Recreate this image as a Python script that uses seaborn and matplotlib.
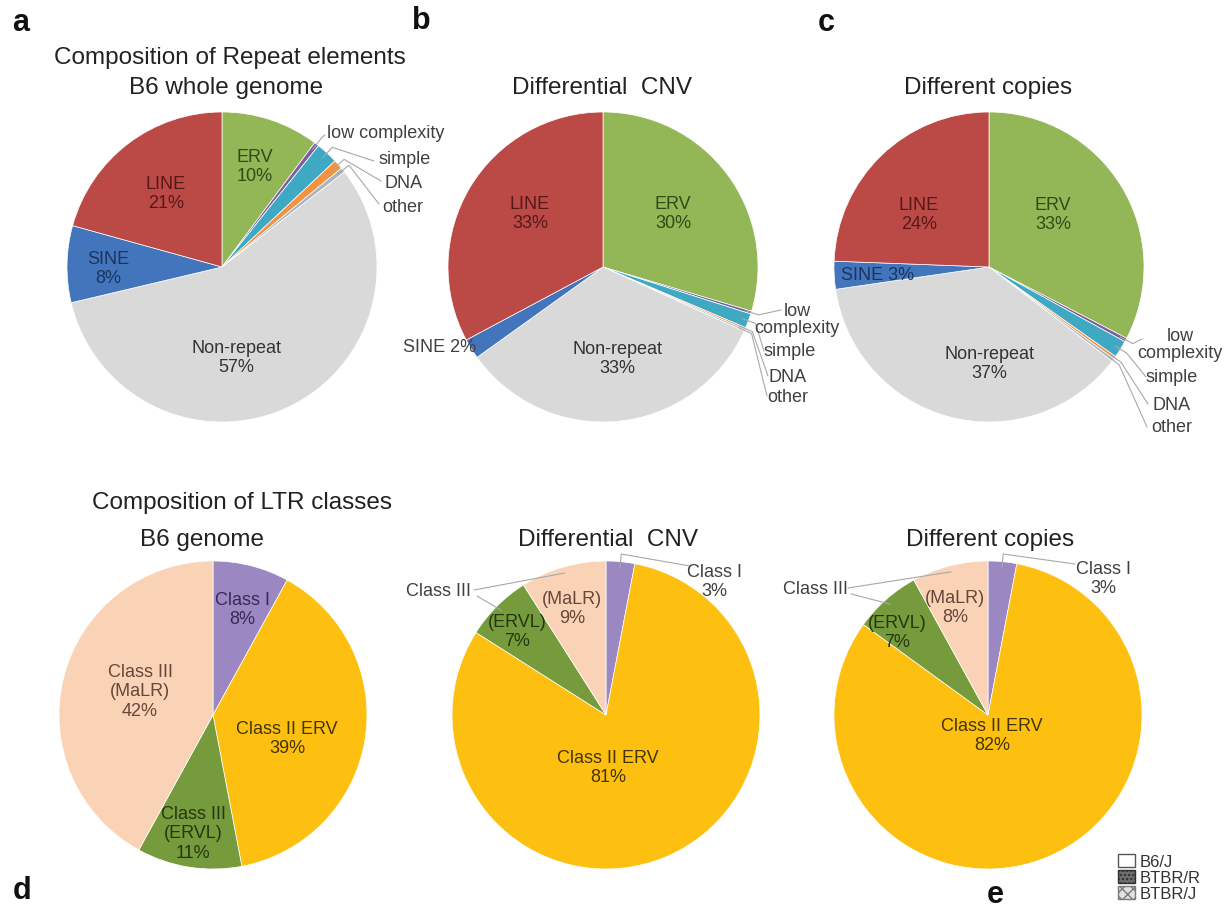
import numpy as np
import matplotlib
matplotlib.use("Agg")
import matplotlib.pyplot as plt
from matplotlib.patches import Patch
import seaborn as sns

# ---------------- data (percent of sequence) ----------------
repeat_types = ["ERV", "low complexity", "simple", "DNA", "other", "Non-repeat", "SINE", "LINE"]
b6_whole_genome = [10.2, 0.5, 2.3, 1.0, 0.5, 56.8, 8.0, 20.7]
differential_cnv = [29.6, 0.3, 1.5, 0.2, 0.2, 33.3, 2.1, 32.8]
different_copies = [32.6, 0.4, 1.8, 0.3, 0.3, 37.3, 2.9, 24.4]

ltr_classes = ["Class I", "Class II ERV", "Class III (ERVL)", "Class III (MaLR)"]
ltr_b6_genome = [8, 39, 11, 42]
ltr_differential_cnv = [3, 81, 7, 9]
ltr_different_copies = [3, 82, 7, 8]

strain_labels = ["B6/J", "BTBR/R", "BTBR/J"]

# ---------------- style ----------------
sns.set_theme(style="white")
plt.rcParams["font.family"] = ["Liberation Sans", "DejaVu Sans"]

repeat_colors = sns.color_palette(["#93B656", "#7B5FA0", "#3FA9C4", "#F39240",
                                   "#A9B4C2", "#D9D9D9", "#4275BB", "#BB4A47"])
repeat_text = {"ERV": "#2E4C17", "Non-repeat": "#333333", "SINE": "#1C355E", "LINE": "#561816"}
ltr_colors = sns.color_palette(["#9B87C2", "#FDC010", "#769B3C", "#FAD3B6"])
ltr_text = ["#382A55", "#443506", "#26360E", "#654638"]
OUT_TEXT = "#404040"
TITLE = "#222222"
LEADER = "#A8A8A8"
FS = 13
TFS = 17.5

W, H = 1228, 920
fig = plt.figure(figsize=(W / 100, H / 100), dpi=100)
ax = fig.add_axes([0, 0, 1, 1])


def P(x, y):
    return x, H - y


def rim_point(values, idx, cx, cy, r, frac=1.0):
    total = float(sum(values))
    start = sum(values[:idx])
    theta = np.deg2rad(360.0 * (start + values[idx] / 2.0) / total)
    return cx + frac * r * np.sin(theta), cy - frac * r * np.cos(theta)


def draw_pie(values, colors, cx, cy, r):
    ax.pie(values, colors=colors, startangle=90, counterclock=False,
           center=P(cx, cy), radius=r,
           wedgeprops=dict(edgecolor="white", linewidth=0.5))


def leader(values, idx, cx, cy, r, end):
    x0, y0 = rim_point(values, idx, cx, cy, r, 0.96)
    x1, y1 = rim_point(values, idx, cx, cy, r, 1.05)
    ax.plot([x0, x1, end[0]], [H - y0, H - y1, H - end[1]], color=LEADER, lw=0.8)


def txt(x, y, s, color=OUT_TEXT, size=FS, ha="center", **kw):
    ax.text(*P(x, y), s, color=color, fontsize=size, ha=ha, va="center", **kw)


def pct(v):
    return f"{v:.0f}%"


R = 155

# ---------------- top row: repeat elements ----------------
top = [
    dict(vals=b6_whole_genome, cx=222, cy=268,
         inner={"ERV": (255, 167), "Non-repeat": (236, 358), "SINE": (108, 269), "LINE": (166, 194)},
         sine_out=None,
         small={"low complexity": ((327, 133), (325, 136), "left"),
                "simple": ((378, 159), (374, 162), "left"),
                "DNA": ((384, 184), (381, 182), "left"),
                "other": ((382, 208), (379, 205), "left")},
         wrap=False),
    dict(vals=differential_cnv, cx=603, cy=268,
         inner={"ERV": (673, 214), "Non-repeat": (617, 359), "LINE": (530, 214)},
         sine_out=(440, 348, OUT_TEXT),
         small={"low complexity": ((797, 320), (781, 311), "center"),
                "simple": ((790, 352), (764, 352), "center"),
                "DNA": ((788, 377), (768, 377), "center"),
                "other": ((788, 397), (767, 397), "center")},
         wrap=True),
    dict(vals=different_copies, cx=989, cy=268,
         inner={"ERV": (1053, 215), "Non-repeat": (989, 364), "LINE": (919, 215)},
         sine_out=(878, 275, repeat_text["SINE"]),
         small={"low complexity": ((1180, 345), (1142, 340), "center"),
                "simple": ((1172, 378), (1146, 378), "center"),
                "DNA": ((1172, 405), (1148, 405), "center"),
                "other": ((1172, 428), (1147, 428), "center")},
         wrap=True),
]

for pie in top:
    vals, cx, cy = pie["vals"], pie["cx"], pie["cy"]
    draw_pie(vals, repeat_colors, cx, cy, R)
    for name, (x, y) in pie["inner"].items():
        v = vals[repeat_types.index(name)]
        txt(x, y, f"{name}\n{pct(v)}", color=repeat_text[name])
    if pie["sine_out"] is not None:
        x, y, c = pie["sine_out"]
        txt(x, y, f"SINE {pct(vals[repeat_types.index('SINE')])}", color=c)
    for name, ((tx, ty), end, ha) in pie["small"].items():
        idx = repeat_types.index(name)
        leader(vals, idx, cx, cy, R, end)
        label = name.replace(" ", "\n") if pie["wrap"] else name
        txt(tx, ty, label, ha=ha, linespacing=0.95)

# ---------------- bottom row: LTR classes ----------------
RB = 154
# whole genome
cx, cy = 213, 716
draw_pie(ltr_b6_genome, ltr_colors, cx, cy, RB)
pos_d = [(242, 610), (287, 739), (193, 834), (140, 692)]
for i, name in enumerate(ltr_classes):
    label = name.replace(" (", "\n(") + "\n" + pct(ltr_b6_genome[i])
    txt(*pos_d[i], label, color=ltr_text[i])

bottom = [
    dict(vals=ltr_differential_cnv, cx=606, cy=716,
         class1=((714, 582), (690, 567)), class2=(608, 768),
         ervl=(517, 632), malr=(572, 609), class3=((438, 592), (474, 591), (477, 597))),
    dict(vals=ltr_different_copies, cx=988, cy=716,
         class1=((1103, 579), (1075, 565)), class2=(992, 736),
         ervl=(897, 633), malr=(955, 608), class3=((815, 590), (848, 589), (851, 595))),
]
for pie in bottom:
    vals, cx, cy = pie["vals"], pie["cx"], pie["cy"]
    draw_pie(vals, ltr_colors, cx, cy, RB)
    (tx, ty), end = pie["class1"]
    leader(vals, 0, cx, cy, RB, end)
    txt(tx, ty, f"{ltr_classes[0]}\n{pct(vals[0])}")
    txt(*pie["class2"], f"{ltr_classes[1]}\n{pct(vals[1])}", color=ltr_text[1])
    txt(*pie["ervl"], ltr_classes[2].split(" ")[-1] + "\n" + pct(vals[2]), color=ltr_text[2])
    txt(*pie["malr"], ltr_classes[3].split(" ")[-1] + "\n" + pct(vals[3]), color=ltr_text[3])
    (lx, ly), e_malr, e_ervl = pie["class3"]
    x0, y0 = rim_point(vals, 3, cx, cy, RB, 0.96)
    ax.plot([e_malr[0], x0], [H - e_malr[1], H - y0], color=LEADER, lw=0.8)
    x0, y0 = rim_point(vals, 2, cx, cy, RB, 0.96)
    ax.plot([e_ervl[0], x0], [H - e_ervl[1], H - y0], color=LEADER, lw=0.8)
    txt(lx, ly, "Class III")

# ---------------- titles and panel letters ----------------
txt(230, 58, "Composition of Repeat elements", color=TITLE, size=TFS)
txt(226, 88, "B6 whole genome", color=TITLE, size=TFS)
txt(602, 88, "Differential  CNV", color=TITLE, size=TFS)
txt(988, 88, "Different copies", color=TITLE, size=TFS)
txt(242, 503, "Composition of LTR classes", color=TITLE, size=TFS)
txt(202, 540, "B6 genome", color=TITLE, size=TFS)
txt(608, 540, "Differential  CNV", color=TITLE, size=TFS)
txt(990, 540, "Different copies", color=TITLE, size=TFS)

for letter, (x, y) in {"a": (21, 23), "b": (421, 21), "c": (826, 23),
                       "d": (22, 891), "e": (995, 895)}.items():
    txt(x, y, letter, color="#111111", size=22, fontweight="bold")

# ---------------- strain key ----------------
handles = [
    Patch(facecolor="white", edgecolor="#555555", label=strain_labels[0]),
    Patch(facecolor="#6E6E6E", edgecolor="#2E2E2E", hatch="....", label=strain_labels[1]),
    Patch(facecolor="#E2E2E2", edgecolor="#7A7A7A", hatch="xxx", label=strain_labels[2]),
]
ax.legend(handles=handles, loc="upper left", bbox_to_anchor=P(1118, 855),
          bbox_transform=ax.transData, frameon=False, fontsize=12,
          handlelength=1.0, handleheight=0.8, handletextpad=0.3,
          labelspacing=0.05, borderpad=0, borderaxespad=0,
          labelcolor="#333333")

ax.set_xlim(0, W)
ax.set_ylim(0, H)
ax.set_aspect("equal")
ax.axis("off")
fig.savefig("out.png", dpi=100, facecolor="white")
